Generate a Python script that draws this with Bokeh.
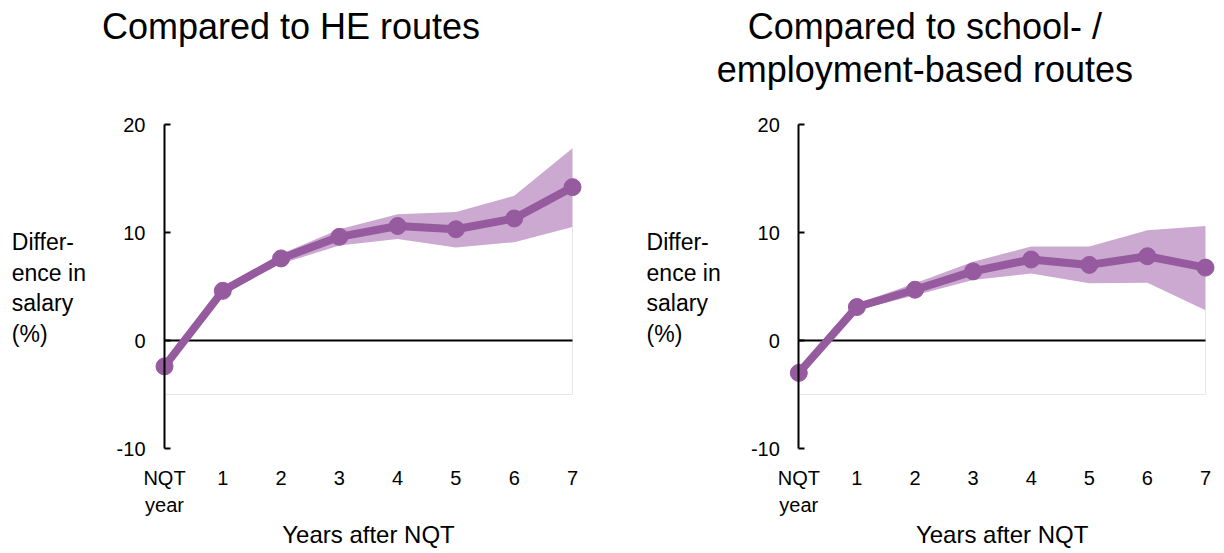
from bokeh.plotting import figure
from bokeh.models import Label, FixedTicker, Range1d
from bokeh.layouts import row
from bokeh.embed import file_html
from bokeh.resources import INLINE

# ---- data ----
years = [0, 1, 2, 3, 4, 5, 6, 7]
tick_labels = ["NQT\nyear", "1", "2", "3", "4", "5", "6", "7"]
y_ticks = [-10, 0, 10, 20]
y_tick_labels = ["-10", "0", "10", "20"]

he_diff = [-2.4, 4.6, 7.6, 9.6, 10.6, 10.3, 11.3, 14.2]
he_lower = [-2.6, 4.3, 7.1, 8.8, 9.4, 8.6, 9.1, 10.5]
he_upper = [-2.2, 4.9, 8.0, 10.3, 11.7, 11.9, 13.4, 17.8]

se_diff = [-3.0, 3.1, 4.7, 6.4, 7.5, 7.0, 7.8, 6.75]
se_lower = [-3.2, 2.8, 4.2, 5.6, 6.2, 5.3, 5.35, 2.8]
se_upper = [-2.8, 3.4, 5.3, 7.3, 8.7, 8.7, 10.2, 10.6]

titles_he = ["Compared to HE routes"]
titles_se = ["Compared to school- /", "employment-based routes"]
ylabel_lines = ["Differ-", "ence in", "salary", "(%)"]
xlabel = "Years after NQT"
plot_floor = -5

LINE = "#965A9F"
BAND = "#CBA9D0"
FONT = "Liberation Sans"

H = 552
Y_PER_PX = 1 / 10.8          # data units per pixel (vertical)
Y_TOP = 20 + 124 * Y_PER_PX  # data value at the top of the canvas
Y_BOTTOM = Y_TOP - H * Y_PER_PX


def panel(title_lines, diff, lower, upper, width, x0_px, px_per_unit):
    xs = -x0_px / px_per_unit
    xe = xs + width / px_per_unit
    p = figure(width=width, height=H, title=None,
               x_range=Range1d(xs, xe), y_range=Range1d(Y_BOTTOM, Y_TOP),
               output_backend="svg", toolbar_location=None,
               min_border_left=0, min_border_right=0,
               min_border_top=0, min_border_bottom=0)
    p.outline_line_color = None
    p.xgrid.visible = False
    p.ygrid.visible = False
    p.background_fill_color = "white"
    p.border_fill_color = "white"

    # x axis: labels only, placed inside the canvas
    xa = p.xaxis[0]
    xa.fixed_location = -10.5
    xa.ticker = FixedTicker(ticks=years)
    xa.major_label_overrides = {yr: lbl for yr, lbl in zip(years, tick_labels)}
    xa.axis_line_color = None
    xa.major_tick_line_color = None
    xa.minor_tick_line_color = None
    xa.major_label_text_font = FONT
    xa.major_label_text_font_size = "20px"
    xa.major_label_text_color = "black"
    xa.major_label_standoff = 7
    xa.major_label_text_line_height = 1.25

    # y axis at x = 0
    ya = p.yaxis[0]
    ya.fixed_location = 0
    ya.bounds = (y_ticks[0], y_ticks[-1])
    ya.ticker = FixedTicker(ticks=y_ticks)
    ya.major_label_overrides = {t: lbl for t, lbl in zip(y_ticks, y_tick_labels)}
    ya.major_tick_in = 6
    ya.major_tick_out = 0
    ya.minor_tick_line_color = None
    ya.axis_line_width = 2
    ya.axis_line_color = "black"
    ya.major_tick_line_width = 2
    ya.major_tick_line_color = "black"
    ya.major_label_standoff = 19
    ya.major_label_text_font = FONT
    ya.major_label_text_font_size = "20px"
    ya.major_label_text_color = "black"

    # faint plot-area edge
    p.line([years[0], years[-1]], [plot_floor, plot_floor], line_color="#E6E6E6", line_width=1)
    p.line([years[-1], years[-1]], [plot_floor, lower[-1]], line_color="#E6E6E6", line_width=1)

    # confidence band
    p.varea(x=years, y1=lower, y2=upper, fill_color=BAND)
    # zero line
    p.line([years[0], years[-1]], [0, 0], line_color="black", line_width=2)
    # series
    p.line(years, diff, line_color=LINE, line_width=8, line_join="round")
    p.scatter(years, diff, size=17, fill_color=LINE, line_color=LINE)

    # titles
    for i, t in enumerate(title_lines):
        p.add_layout(Label(x=2.17, y=29.1 - i * 3.98, text=t, text_font=FONT,
                           text_font_size="36px", text_align="center",
                           text_baseline="alphabetic", text_color="black"))
    # y label
    for i, t in enumerate(ylabel_lines):
        p.add_layout(Label(x=-2.62, y=9.13 - i * 2.85, text=t, text_font=FONT,
                           text_font_size="23px", text_align="left",
                           text_baseline="alphabetic", text_color="black"))
    # x label
    p.add_layout(Label(x=3.5, y=-18.0, text=xlabel, text_font=FONT,
                       text_font_size="24px", text_align="center",
                       text_baseline="alphabetic", text_color="black"))
    return p


p1 = panel(titles_he, he_diff, he_lower, he_upper, 612, 164, 58.286)
p2 = panel(titles_se, se_diff, se_lower, se_upper, 610, 798.3 - 612, 58.1)

layout = row(p1, p2)
open("out.html", "w").write(file_html(layout, INLINE))
